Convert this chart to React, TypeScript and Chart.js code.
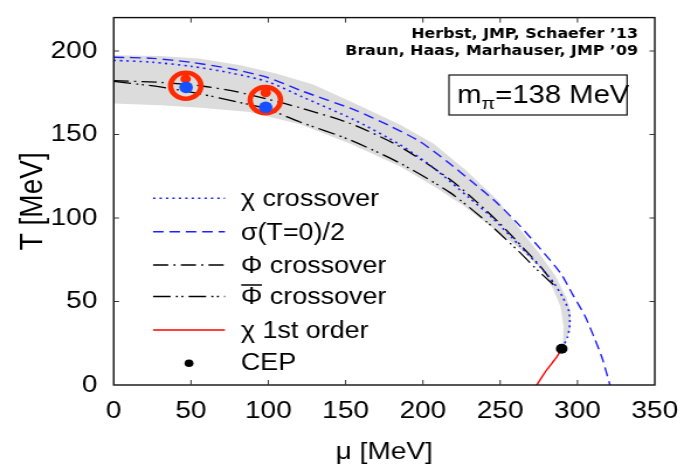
import React, { useEffect, useRef } from "react";
import { Chart, registerables } from "chart.js";

Chart.register(...registerables);

// ---------- data (μ [MeV], T [MeV]) ----------
const xTickStep = 50;
const yTickStep = 50;

const bandUpper: [number, number][] = [
  [0, 197.5], [30, 197], [55, 195.5], [82, 191.5], [105, 186.5], [129, 180],
  [155, 169], [185, 156], [207, 144.5], [228, 128.5], [248, 111], [263, 93],
  [276, 78], [286, 65], [293, 52], [295.5, 44], [295.5, 34], [291, 22.6],
];
const bandLower: [number, number][] = [
  [0, 168.5], [30, 167.5], [56, 166], [88, 163.5], [121, 156], [153, 144.5],
  [185, 131], [207, 119], [226, 107.5], [241, 97], [261, 83], [276, 70],
  [284, 58], [289, 47], [291, 35], [290.5, 22.6],
];

const chiCrossover: [number, number][] = [
  [0, 194.4], [25, 193.3], [50, 190.8], [75, 187], [100, 181.5], [122, 172.5],
  [155, 159], [185, 144], [207, 130], [230, 112], [245, 100], [263, 83],
  [276, 70.5], [284, 62], [290.5, 52.5], [294.5, 44], [295, 36], [293.5, 28.5],
  [289.8, 21.7],
];
const sigmaHalf: [number, number][] = [
  [0, 196.3], [25, 195.6], [50, 193.2], [75, 189.5], [100, 184], [122.5, 175.8],
  [155, 165], [177.6, 155.6], [198, 145.8], [215.4, 134], [232.6, 121.1],
  [248, 109], [262, 96], [276, 81.5], [289, 67], [297, 54], [305, 41],
  [311, 28], [316, 16], [321, 0],
];
const phiCrossover: [number, number][] = [
  [0, 182.2], [30, 181.2], [56, 179.2], [80, 175.5], [99, 171.3], [120.5, 166],
  [153, 156.6], [185, 142.8], [217.6, 123], [235, 109.5], [250, 96.5],
  [265, 82], [276, 71], [284.5, 61],
];
const phiBarCrossover: [number, number][] = [
  [0, 181.8], [30, 178.5], [56, 174.3], [80, 169.5], [99, 165.4], [120.5, 157.5],
  [153, 146.7], [185, 132.9], [217.6, 115.2], [241.5, 97.5], [262, 80],
  [275, 68], [284.5, 60],
];
const chiFirstOrder: [number, number][] = [
  [273.6, 0], [280, 8.9], [286.5, 16.7], [289.8, 21.7],
];
const cep: [number, number][] = [[289.8, 21.7]];

const latticeRings: [number, number][] = [[46.6, 179.2], [98.1, 170.6]];
const latticeRed: [number, number][] = [[46.5, 183.3], [98.3, 175]];
const latticeBlue: [number, number][] = [[46.8, 178.2], [98.3, 166.3]];

const legendLabels = [
  "χ crossover",
  "σ(T=0)/2",
  "Φ crossover",
  "Φ crossover",
  "χ 1st order",
  "CEP",
];
const refLines = ["Herbst, JMP, Schaefer ’13", "Braun, Haas, Marhauser, JMP ’09"];
const massLabel = { main: "m", sub: "π", rest: "=138 MeV" };

// ---------- styling ----------
const FONT = "'Liberation Sans', Arial, Helvetica, sans-serif";
const BLUE = "#1f1fff";
const BAND = "#dcdcdc";
const RED = "#ff2a00";
const CW = 585; // canvas drawing width, displayed stretched to 684
const CH = 474;

const toXY = (arr: [number, number][]) => arr.map(([x, y]) => ({ x, y }));

export default function App() {
  const ref = useRef<HTMLCanvasElement | null>(null);

  useEffect(() => {
    const canvas = ref.current;
    if (!canvas) return;

    const lineDs = (label: string, arr: [number, number][], color: string, dash: number[], width: number, order: number) => ({
      label,
      data: toXY(arr),
      showLine: true,
      borderColor: color,
      borderWidth: width,
      borderDash: dash,
      pointRadius: 0,
      pointHoverRadius: 0,
      tension: 0.25,
      fill: false,
      order,
    });

    const datasets: any[] = [
      { ...lineDs(legendLabels[0], chiCrossover, BLUE, [2, 3.5], 1.6, 20) },
      { ...lineDs(legendLabels[1], sigmaHalf, BLUE, [9, 5], 1.4, 21) },
      { ...lineDs(legendLabels[2], phiCrossover, "#000", [13, 4.5, 1.7, 4.5], 1.3, 22) },
      { ...lineDs(legendLabels[3], phiBarCrossover, "#000", [15, 4.5, 1.7, 3, 1.7, 4.5], 1.3, 23) },
      { ...lineDs(legendLabels[4], chiFirstOrder, "#ff0000", [], 1.4, 19) },
      {
        label: legendLabels[5], data: toXY(cep), showLine: false,
        pointRadius: 5, pointBackgroundColor: "#000", pointBorderWidth: 0, order: 5,
      },
      {
        label: "rings", data: toXY(latticeRings), showLine: false,
        pointRadius: 13, pointBorderWidth: 4.6, pointBorderColor: RED,
        pointBackgroundColor: "rgba(0,0,0,0)", order: 4,
      },
      {
        label: "red", data: toXY(latticeRed), showLine: false,
        pointRadius: 4.5, pointBorderWidth: 0, pointBackgroundColor: RED, order: 3,
      },
      {
        label: "blue", data: toXY(latticeBlue), showLine: false,
        pointRadius: 5.8, pointBorderWidth: 0, pointBackgroundColor: "#1650ff", order: 2,
      },
    ];

    const bandPlugin = {
      id: "band",
      beforeDatasetsDraw(chart: any) {
        const { ctx, scales } = chart;
        const poly = [...bandUpper, ...bandLower.slice().reverse()];
        ctx.save();
        ctx.beginPath();
        poly.forEach(([m, t], i) => {
          const px = scales.x.getPixelForValue(m);
          const py = scales.y.getPixelForValue(t);
          if (i === 0) ctx.moveTo(px, py);
          else ctx.lineTo(px, py);
        });
        ctx.closePath();
        ctx.fillStyle = BAND;
        ctx.fill();
        ctx.restore();
      },
    };

    const decorPlugin = {
      id: "decor",
      afterDraw(chart: any) {
        const { ctx, chartArea: a, scales } = chart;
        ctx.save();
        // frame
        ctx.strokeStyle = "#111";
        ctx.lineWidth = 1.4;
        ctx.setLineDash([]);
        ctx.strokeRect(a.left, a.top, a.right - a.left, a.bottom - a.top);
        // inward ticks
        ctx.lineWidth = 1;
        ctx.strokeStyle = "#333";
        ctx.beginPath();
        scales.x.ticks.forEach((t: any) => {
          if (t.value <= scales.x.min || t.value >= scales.x.max) return;
          const px = scales.x.getPixelForValue(t.value);
          ctx.moveTo(px, a.bottom); ctx.lineTo(px, a.bottom - 5);
          ctx.moveTo(px, a.top); ctx.lineTo(px, a.top + 5);
        });
        scales.y.ticks.forEach((t: any) => {
          if (t.value <= scales.y.min || t.value >= scales.y.max) return;
          const py = scales.y.getPixelForValue(t.value);
          ctx.moveTo(a.left, py); ctx.lineTo(a.left + 4.5, py);
          ctx.moveTo(a.right, py); ctx.lineTo(a.right - 4.5, py);
        });
        ctx.stroke();

        // legend
        const rows = [198.3, 231.7, 265, 296.5, 330, 363.3];
        const x1 = 130.9, x2 = 192.4, tx = 206;
        ctx.font = `23px ${FONT}`;
        ctx.textBaseline = "middle";
        ctx.textAlign = "left";
        ctx.fillStyle = "#000";
        for (let i = 0; i < 5; i++) {
          const ds = chart.data.datasets[i];
          ctx.beginPath();
          ctx.strokeStyle = ds.borderColor;
          ctx.lineWidth = ds.borderWidth;
          ctx.setLineDash(ds.borderDash);
          ctx.moveTo(x1, rows[i]);
          ctx.lineTo(x2, rows[i]);
          ctx.stroke();
          ctx.setLineDash([]);
          ctx.fillText(ds.label, tx, rows[i] + 1.5);
          if (i === 3) {
            const w = ctx.measureText("Φ").width;
            ctx.beginPath();
            ctx.strokeStyle = "#000";
            ctx.lineWidth = 1.5;
            ctx.moveTo(tx + 0.3, rows[i] - 11.5);
            ctx.lineTo(tx + w - 0.3, rows[i] - 11.5);
            ctx.stroke();
          }
        }
        const cepX = (x1 + x2) / 2;
        ctx.beginPath();
        ctx.fillStyle = "#000";
        ctx.arc(cepX, rows[5], 3.8, 0, Math.PI * 2);
        ctx.fill();
        ctx.fillText(chart.data.datasets[5].label, tx, rows[5]);

        // reference lines
        ctx.font = `bold 13.6px 'DejaVu Sans', Verdana, sans-serif`;
        ctx.textAlign = "right";
        ctx.fillText(refLines[0], 545.7, 34);
        ctx.fillText(refLines[1], 545.7, 51.7);

        // mass box
        ctx.strokeStyle = "#111";
        ctx.lineWidth = 1.2;
        ctx.strokeRect(384, 75, 152.3, 40);
        ctx.textAlign = "left";
        ctx.textBaseline = "alphabetic";
        let cx = 391;
        ctx.font = `25px ${FONT}`;
        ctx.fillText(massLabel.main, cx, 103.3);
        cx += ctx.measureText(massLabel.main).width;
        ctx.font = `17px ${FONT}`;
        ctx.fillText(massLabel.sub, cx, 109);
        cx += ctx.measureText(massLabel.sub).width;
        ctx.font = `25px ${FONT}`;
        ctx.fillText(massLabel.rest, cx, 103.3);
        ctx.restore();
      },
    };

    const tickFont = { family: FONT, size: 24 };
    const chart = new Chart(canvas, {
      type: "scatter",
      data: { datasets },
      options: {
        responsive: false,
        animation: false,
        devicePixelRatio: 1,
        layout: { padding: { top: 12, right: 25, left: 0, bottom: 0 } },
        plugins: { legend: { display: false }, tooltip: { enabled: false } },
        scales: {
          x: {
            type: "linear",
            min: 0,
            max: 350,
            grid: { display: false, drawTicks: false },
            border: { display: false },
            ticks: { stepSize: xTickStep, font: tickFont, color: "#000", padding: 11.6, maxRotation: 0, includeBounds: false },
            title: { display: true, text: "μ [MeV]", font: { family: FONT, size: 24 }, color: "#000", padding: { top: 0, bottom: 7.6 } },
            afterFit: (s: any) => { s.height = 89; s.paddingLeft = 0; s.paddingRight = 0; },
          },
          y: {
            type: "linear",
            min: 0,
            max: 220,
            grid: { display: false, drawTicks: false },
            border: { display: false },
            ticks: { stepSize: yTickStep, font: tickFont, color: "#000", padding: 14, includeBounds: false },
            title: { display: true, text: "T [MeV]", font: { family: FONT, size: 28 }, color: "#000", padding: { top: 11.4, bottom: 0 } },
            afterFit: (s: any) => { s.width = 97.25; s.paddingTop = 0; s.paddingBottom = 0; },
          },
        },
      } as any,
      plugins: [bandPlugin, decorPlugin],
    });

    return () => chart.destroy();
  }, []);

  return (
    <div style={{ position: "fixed", left: 0, top: 0, width: 684, height: 474, background: "#fff" }}>
      <canvas
        ref={ref}
        width={CW}
        height={CH}
        style={{ width: "684px", height: "474px", display: "block" }}
      />
    </div>
  );
}
